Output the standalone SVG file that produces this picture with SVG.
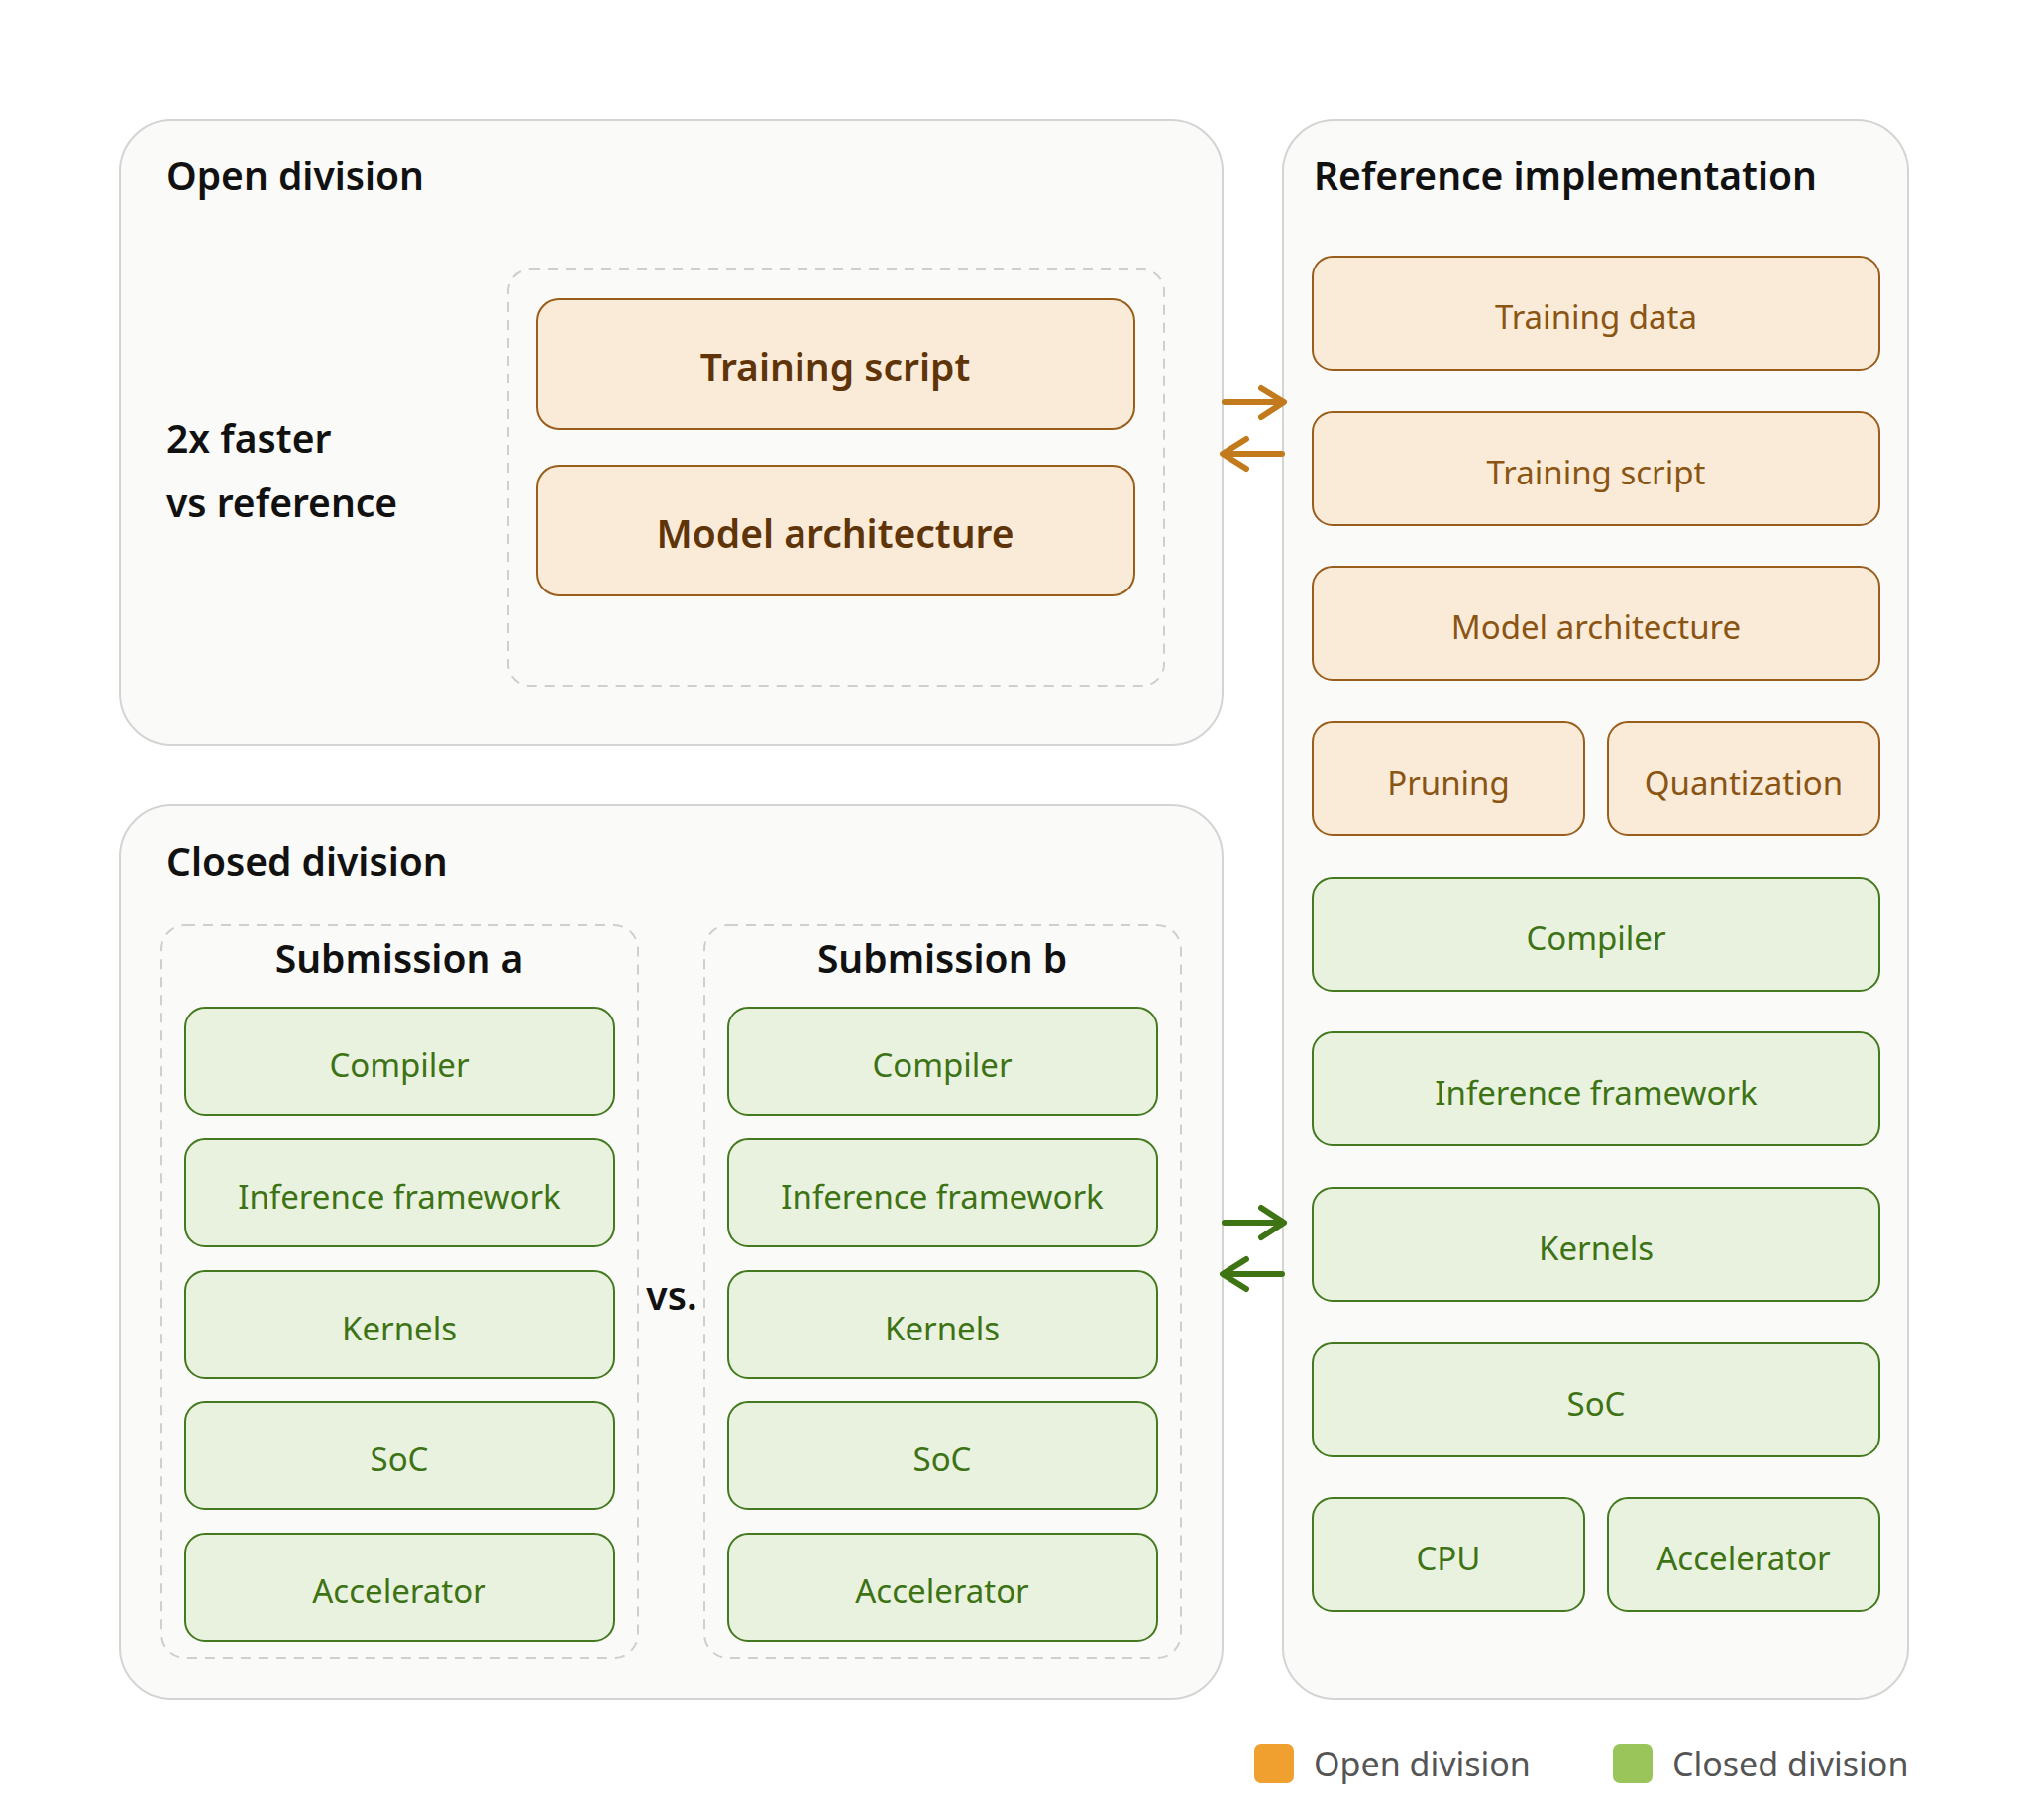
<svg xmlns="http://www.w3.org/2000/svg" width="2048" height="1837" viewBox="0 0 2048 1837">
<defs>
<style>
.panel{fill:#FAFAF8;stroke:#D4D4D4;stroke-width:2}
.dash{fill:none;stroke:#CFCFCF;stroke-width:2;stroke-dasharray:10 8}
.ob{fill:#FAEBD9;stroke:#9A5E1C;stroke-width:2}
.cb{fill:#E8F2DE;stroke:#44791F;stroke-width:2}
.title{font-family:"Noto Sans","Open Sans",sans-serif;font-size:39px;font-weight:600;fill:#111}
.ot{font-family:"Noto Sans","Open Sans",sans-serif;font-size:33px;fill:#8A5412;text-anchor:middle}
.otb{font-family:"Noto Sans","Open Sans",sans-serif;font-size:39px;font-weight:600;fill:#5E3408;text-anchor:middle}
.ct{font-family:"Noto Sans","Open Sans",sans-serif;font-size:33px;fill:#3D7215;text-anchor:middle}
.leg{font-family:"Noto Sans","Open Sans",sans-serif;font-size:34px;fill:#555}
.oa{stroke:#C27A1C;stroke-width:6;fill:none;stroke-linecap:round;stroke-linejoin:round}
.ga{stroke:#3E7414;stroke-width:6;fill:none;stroke-linecap:round;stroke-linejoin:round}
</style>
</defs>
<rect width="2048" height="1837" fill="#FFFFFF"/>

<g id="open-division">
<rect class="panel" x="121" y="121" width="1113" height="631" rx="52"/>
<text class="title" x="168" y="192">Open division</text>
<text class="title" x="168" y="457">2x faster</text>
<text class="title" x="168" y="522">vs reference</text>
<rect class="dash" x="513" y="272" width="662" height="420" rx="22"/>
<g id="open-training-script"><rect class="ob" x="542" y="302" width="603" height="131" rx="22"/><text class="otb" x="843" y="385">Training script</text></g>
<g id="open-model-architecture"><rect class="ob" x="542" y="470" width="603" height="131" rx="22"/><text class="otb" x="843" y="553">Model architecture</text></g>
</g>

<g id="closed-division">
<rect class="panel" x="121" y="813" width="1113" height="902" rx="52"/>
<text class="title" x="168" y="884">Closed division</text>
<text class="title" x="678" y="1322" text-anchor="middle">vs.</text>
<g id="submission-a">
<rect class="dash" x="163" y="934" width="481" height="739" rx="24"/>
<text class="title" x="403" y="982" text-anchor="middle">Submission a</text>
<g id="a-compiler"><rect class="cb" x="187" y="1017" width="433" height="108" rx="20"/><text class="ct" x="403" y="1087">Compiler</text></g>
<g id="a-inference"><rect class="cb" x="187" y="1150" width="433" height="108" rx="20"/><text class="ct" x="403" y="1220">Inference framework</text></g>
<g id="a-kernels"><rect class="cb" x="187" y="1283" width="433" height="108" rx="20"/><text class="ct" x="403" y="1353">Kernels</text></g>
<g id="a-soc"><rect class="cb" x="187" y="1415" width="433" height="108" rx="20"/><text class="ct" x="403" y="1485">SoC</text></g>
<g id="a-accelerator"><rect class="cb" x="187" y="1548" width="433" height="108" rx="20"/><text class="ct" x="403" y="1618">Accelerator</text></g>
</g>
<g id="submission-b">
<rect class="dash" x="711" y="934" width="481" height="739" rx="24"/>
<text class="title" x="951" y="982" text-anchor="middle">Submission b</text>
<g id="b-compiler"><rect class="cb" x="735" y="1017" width="433" height="108" rx="20"/><text class="ct" x="951" y="1087">Compiler</text></g>
<g id="b-inference"><rect class="cb" x="735" y="1150" width="433" height="108" rx="20"/><text class="ct" x="951" y="1220">Inference framework</text></g>
<g id="b-kernels"><rect class="cb" x="735" y="1283" width="433" height="108" rx="20"/><text class="ct" x="951" y="1353">Kernels</text></g>
<g id="b-soc"><rect class="cb" x="735" y="1415" width="433" height="108" rx="20"/><text class="ct" x="951" y="1485">SoC</text></g>
<g id="b-accelerator"><rect class="cb" x="735" y="1548" width="433" height="108" rx="20"/><text class="ct" x="951" y="1618">Accelerator</text></g>
</g>
</g>

<g id="reference-implementation">
<rect class="panel" x="1295" y="121" width="631" height="1594" rx="52"/>
<text class="title" x="1326" y="192">Reference implementation</text>
<g id="r-training-data"><rect class="ob" x="1325" y="259" width="572" height="114" rx="20"/><text class="ot" x="1611" y="332">Training data</text></g>
<g id="r-training-script"><rect class="ob" x="1325" y="416" width="572" height="114" rx="20"/><text class="ot" x="1611" y="489">Training script</text></g>
<g id="r-model-architecture"><rect class="ob" x="1325" y="572" width="572" height="114" rx="20"/><text class="ot" x="1611" y="645">Model architecture</text></g>
<g id="r-pruning"><rect class="ob" x="1325" y="729" width="274" height="114" rx="20"/><text class="ot" x="1462" y="802">Pruning</text></g>
<g id="r-quantization"><rect class="ob" x="1623" y="729" width="274" height="114" rx="20"/><text class="ot" x="1760" y="802">Quantization</text></g>
<g id="r-compiler"><rect class="cb" x="1325" y="886" width="572" height="114" rx="20"/><text class="ct" x="1611" y="959">Compiler</text></g>
<g id="r-inference"><rect class="cb" x="1325" y="1042" width="572" height="114" rx="20"/><text class="ct" x="1611" y="1115">Inference framework</text></g>
<g id="r-kernels"><rect class="cb" x="1325" y="1199" width="572" height="114" rx="20"/><text class="ct" x="1611" y="1272">Kernels</text></g>
<g id="r-soc"><rect class="cb" x="1325" y="1356" width="572" height="114" rx="20"/><text class="ct" x="1611" y="1429">SoC</text></g>
<g id="r-cpu"><rect class="cb" x="1325" y="1512" width="274" height="114" rx="20"/><text class="ct" x="1462" y="1585">CPU</text></g>
<g id="r-accelerator"><rect class="cb" x="1623" y="1512" width="274" height="114" rx="20"/><text class="ct" x="1760" y="1585">Accelerator</text></g>
</g>

<g id="connectors">
<path class="oa" d="M1236 406 H1295 M1273 392 L1296 406 L1273 421"/>
<path class="oa" d="M1294 458 H1235 M1258 443 L1234 458 L1258 473"/>
<path class="ga" d="M1236 1234 H1295 M1273 1219 L1296 1234 L1273 1249"/>
<path class="ga" d="M1294 1286 H1235 M1258 1271 L1234 1286 L1258 1301"/>
</g>

<g id="legend">
<rect x="1266" y="1760" width="40" height="40" rx="7" fill="#EFA02E"/>
<text class="leg" x="1326" y="1793">Open division</text>
<rect x="1628" y="1760" width="40" height="40" rx="7" fill="#9AC55A"/>
<text class="leg" x="1688" y="1793">Closed division</text>
</g>
</svg>
